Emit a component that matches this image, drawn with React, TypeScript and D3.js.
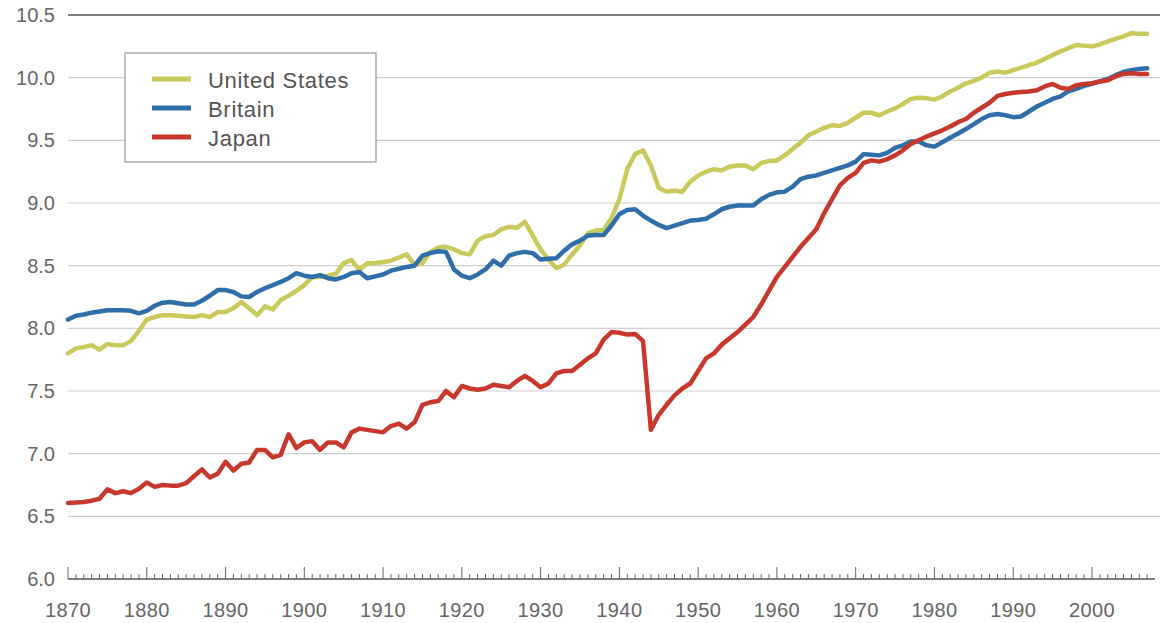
import { useMemo } from "react";
import * as d3 from "d3";

// log of GDP per head, one value per year from 1870
const years = d3.range(1870, 2008);

const unitedStates = [
  7.80, 7.84, 7.85, 7.865, 7.83, 7.875, 7.865, 7.865, 7.90, 7.98,
  8.07, 8.09, 8.105, 8.105, 8.10, 8.095, 8.09, 8.105, 8.09, 8.13,
  8.13, 8.16, 8.21, 8.16, 8.105, 8.175, 8.15, 8.225, 8.26, 8.30,
  8.345, 8.41, 8.41, 8.42, 8.435, 8.52, 8.545, 8.465, 8.52, 8.52,
  8.53, 8.54, 8.565, 8.59, 8.505, 8.52, 8.61, 8.645, 8.65, 8.63,
  8.60, 8.59, 8.70, 8.735, 8.745, 8.79, 8.81, 8.80, 8.85, 8.74,
  8.63, 8.55, 8.48, 8.51, 8.59, 8.66, 8.76, 8.78, 8.785, 8.88,
  9.03, 9.27, 9.39, 9.42, 9.30, 9.12, 9.09, 9.10, 9.09, 9.17,
  9.22, 9.25, 9.27, 9.26, 9.29, 9.30, 9.30, 9.27, 9.32, 9.335,
  9.34, 9.38, 9.43, 9.48, 9.54, 9.57, 9.60, 9.62, 9.615, 9.64,
  9.68, 9.72, 9.72, 9.70, 9.73, 9.755, 9.79, 9.83, 9.84, 9.835,
  9.825, 9.85, 9.89, 9.92, 9.955, 9.975, 10.00, 10.04, 10.05, 10.04,
  10.06, 10.08, 10.10, 10.12, 10.15, 10.18, 10.21, 10.235, 10.26, 10.255,
  10.25, 10.265, 10.29, 10.31, 10.33, 10.355, 10.35, 10.35,
];

const britain = [
  8.07, 8.10, 8.11, 8.125, 8.135, 8.145, 8.145, 8.145, 8.14, 8.12,
  8.14, 8.18, 8.205, 8.21, 8.20, 8.19, 8.19, 8.22, 8.26, 8.305,
  8.305, 8.29, 8.255, 8.25, 8.29, 8.32, 8.345, 8.37, 8.40, 8.44,
  8.42, 8.41, 8.425, 8.40, 8.39, 8.41, 8.44, 8.45, 8.40, 8.415,
  8.43, 8.46, 8.475, 8.49, 8.50, 8.58, 8.60, 8.615, 8.61, 8.47,
  8.42, 8.40, 8.43, 8.47, 8.54, 8.50, 8.58, 8.60, 8.61, 8.60,
  8.55, 8.555, 8.56, 8.62, 8.67, 8.70, 8.74, 8.745, 8.745, 8.82,
  8.91, 8.945, 8.95, 8.90, 8.86, 8.825, 8.80, 8.82, 8.84, 8.86,
  8.865, 8.875, 8.91, 8.95, 8.97, 8.98, 8.98, 8.98, 9.03, 9.065,
  9.085, 9.09, 9.13, 9.19, 9.21, 9.22, 9.24, 9.26, 9.28, 9.30,
  9.33, 9.39, 9.385, 9.38, 9.40, 9.44, 9.46, 9.49, 9.49, 9.46,
  9.45, 9.485, 9.52, 9.555, 9.59, 9.63, 9.67, 9.70, 9.71, 9.70,
  9.685, 9.69, 9.73, 9.77, 9.80, 9.83, 9.85, 9.89, 9.91, 9.935,
  9.95, 9.97, 9.99, 10.02, 10.045, 10.06, 10.07, 10.075,
];

const japan = [
  6.607, 6.61, 6.615, 6.625, 6.64, 6.715, 6.685, 6.70, 6.685, 6.72,
  6.77, 6.735, 6.75, 6.745, 6.745, 6.765, 6.82, 6.875, 6.81, 6.84,
  6.935, 6.865, 6.92, 6.93, 7.03, 7.03, 6.97, 6.99, 7.155, 7.045,
  7.09, 7.10, 7.03, 7.09, 7.09, 7.05, 7.17, 7.20, 7.19, 7.18,
  7.17, 7.22, 7.24, 7.20, 7.25, 7.39, 7.41, 7.42, 7.50, 7.45,
  7.54, 7.52, 7.51, 7.52, 7.55, 7.54, 7.53, 7.58, 7.62, 7.58,
  7.53, 7.56, 7.64, 7.66, 7.66, 7.71, 7.76, 7.80, 7.91, 7.97,
  7.965, 7.95, 7.955, 7.90, 7.19, 7.31, 7.39, 7.465, 7.52, 7.56,
  7.66, 7.76, 7.80, 7.87, 7.92, 7.97, 8.03, 8.09, 8.19, 8.30,
  8.41, 8.49, 8.57, 8.65, 8.72, 8.79, 8.92, 9.03, 9.14, 9.20,
  9.24, 9.32, 9.34, 9.33, 9.35, 9.38, 9.42, 9.47, 9.50, 9.53,
  9.555, 9.58, 9.61, 9.645, 9.67, 9.72, 9.76, 9.80, 9.855, 9.87,
  9.88, 9.885, 9.89, 9.90, 9.93, 9.95, 9.92, 9.91, 9.94, 9.95,
  9.955, 9.97, 9.98, 10.01, 10.03, 10.035, 10.03, 10.03,
];

const seriesNames = ["United States", "Britain", "Japan"];
const seriesColors = ["#c9c95c", "#2f6ea8", "#c8372c"];
const yTicks = [6.0, 6.5, 7.0, 7.5, 8.0, 8.5, 9.0, 9.5, 10.0, 10.5];
const decadeTicks = d3.range(1870, 2001, 10);

const W = 1166;
const H = 623;
const font = "'Liberation Sans', Arial, Helvetica, sans-serif";

export default function App() {
  const x = useMemo(() => d3.scaleLinear().domain([1870, 2008]).range([68, 1155]), []);
  const y = useMemo(() => d3.scaleLinear().domain([6, 10.5]).range([579, 15]), []);

  const line = d3.line<number>()
    .x((_, i) => x(years[i]))
    .y((d) => y(d));

  const allSeries = [unitedStates, britain, japan];
  const minorTicks = d3.range(1870, 2008);

  return (
    <>
      <style>{"body{margin:0;background:#fff}"}</style>
      <svg width={W} height={H} style={{ display: "block" }} fontFamily={font}>
        <rect width={W} height={H} fill="#fff" />

        {/* horizontal grid */}
        {yTicks.map((t) => (
          t > 6 && (
            <line
              key={t}
              x1={x(1870)} x2={1160}
              y1={y(t)} y2={y(t)}
              stroke={t === 10.5 ? "#555" : "#cfcfcf"}
              strokeWidth={t === 10.5 ? 1.5 : 1.2}
            />
          )
        ))}
        {yTicks.map((t) => (
          <text
            key={"l" + t}
            x={55} y={y(t)}
            textAnchor="end" dominantBaseline="central"
            fontSize={20} fill="#666"
          >
            {t.toFixed(1)}
          </text>
        ))}

        {/* x axis with yearly ticks */}
        <line x1={x(1870)} x2={x(2008)} y1={y(6)} y2={y(6)} stroke="#555" strokeWidth={1.5} />
        {minorTicks.map((yr) => (
          <line
            key={"t" + yr}
            x1={x(yr)} x2={x(yr)}
            y1={y(6)} y2={y(6) - (yr % 10 === 0 ? 12 : 5)}
            stroke="#666" strokeWidth={1}
          />
        ))}
        {decadeTicks.map((yr) => (
          <text
            key={"x" + yr}
            x={x(yr)} y={617}
            textAnchor="middle" fontSize={20} fill="#666" letterSpacing={0.4}
          >
            {yr}
          </text>
        ))}

        {/* series */}
        {allSeries.map((s, i) => (
          <path
            key={seriesNames[i]}
            d={line(s) ?? ""}
            fill="none"
            stroke={seriesColors[i]}
            strokeWidth={4.5}
            strokeLinejoin="round"
            strokeLinecap="round"
          />
        ))}

        {/* legend */}
        <g transform="translate(125,53)">
          <rect width={251} height={109} fill="#fff" stroke="#999" strokeWidth={1.2} />
          {seriesNames.map((n, i) => (
            <g key={n} transform={`translate(0,${26 + i * 29})`}>
              <line x1={27} x2={66} y1={0} y2={0} stroke={seriesColors[i]} strokeWidth={5} />
              <text x={83} y={1} dominantBaseline="central" fontSize={22} fill="#555" letterSpacing={0.7}>
                {n}
              </text>
            </g>
          ))}
        </g>
      </svg>
    </>
  );
}
